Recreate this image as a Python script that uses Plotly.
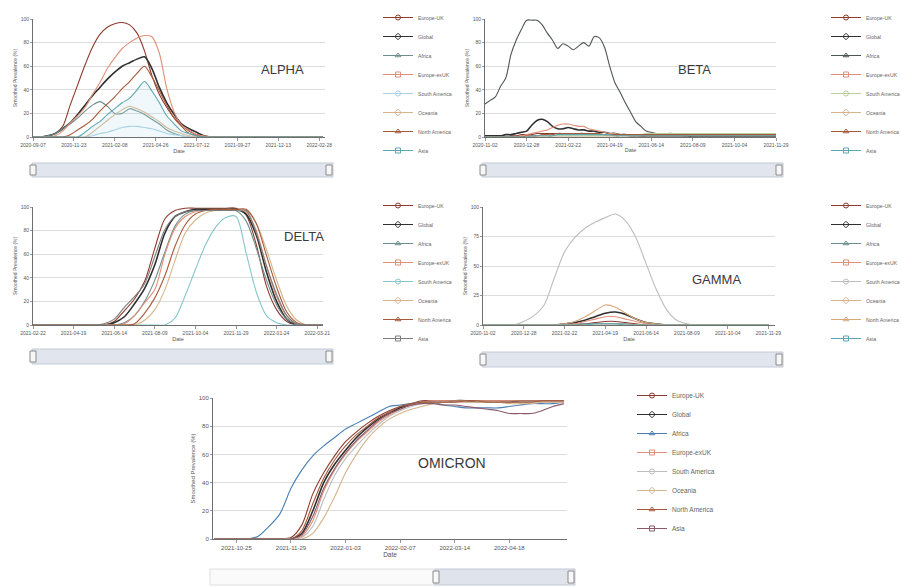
import pandas as pd
import plotly.graph_objects as go

W, H = 902, 587

REGIONS = ["Europe-UK", "Global", "Africa", "Europe-exUK", "South America",
           "Oceania", "North America", "Asia"]
SYMBOLS = ["circle-open", "diamond-open", "triangle-up-open", "square-open",
           "circle-open", "diamond-open", "triangle-up-open", "square-open"]
BASE_COLORS = {
    "Europe-UK": "#8e3b2f", "Global": "#2f2f2f", "Africa": "#6e8f8b",
    "Europe-exUK": "#e0907a", "South America": "#a9d3e3", "Oceania": "#d6b48c",
    "North America": "#a65a3a", "Asia": "#5ba7ae",
}

# ---------------- ALPHA (14-day samples from 2020-09-07) ----------------
ALPHA_START, ALPHA_STEP = "2020-09-07", "14D"
ALPHA_TICKS = ["2020-09-07", "2020-11-23", "2021-02-08", "2021-04-26",
               "2021-07-12", "2021-09-27", "2021-12-13", "2022-02-28"]
ALPHA_EUROPE_UK = [0, 0, 1, 3, 9, 27, 44, 61, 76, 87, 93, 96, 97, 95, 88, 73, 52, 36, 25, 16,
                   10, 5, 2, 1, 0, 0, 0, 0, 0, 0, 0, 0, 0, 0, 0, 0, 0, 0, 0, 0]
ALPHA_GLOBAL = [0, 0, 1, 3, 7, 12, 19, 27, 35, 42, 49, 55, 60, 63, 66, 68, 58, 42, 29, 19,
                11, 7, 4, 1, 0, 0, 0, 0, 0, 0, 0, 0, 0, 0, 0, 0, 0, 0, 0, 0]
ALPHA_AFRICA = [0, 0, 1, 3, 7, 11, 16, 22, 27, 30, 26, 20, 20, 24, 22, 19, 15, 11, 6, 3,
                1, 0, 0, 0, 0, 0, 0, 0, 0, 0, 0, 0, 0, 0, 0, 0, 0, 0, 0, 0]
ALPHA_EUROPE_EXUK = [0, 0, 0, 1, 5, 12, 18, 25, 36, 46, 58, 67, 75, 80, 84, 86, 85, 71, 41, 21,
                     10, 6, 2, 1, 0, 0, 0, 0, 0, 0, 0, 0, 0, 0, 0, 0, 0, 0, 0, 0]
ALPHA_SOUTH_AMERICA = [0, 0, 0, 0, 0, 0, 0, 0, 1, 3, 4, 6, 8, 9, 9, 8, 7, 5, 3, 2,
                       1, 0, 0, 0, 0, 0, 0, 0, 0, 0, 0, 0, 0, 0, 0, 0, 0, 0, 0, 0]
ALPHA_OCEANIA = [0, 0, 0, 0, 0, 0, 0, 0, 4, 9, 14, 19, 23, 26, 24, 21, 17, 13, 8, 5,
                 3, 1, 0, 0, 0, 0, 0, 0, 0, 0, 0, 0, 0, 0, 0, 0, 0, 0, 0, 0]
ALPHA_NORTH_AMERICA = [0, 0, 0, 0, 0, 2, 6, 10, 15, 22, 28, 34, 41, 47, 54, 60, 51, 39, 27, 16,
                       9, 3, 1, 0, 0, 0, 0, 0, 0, 0, 0, 0, 0, 0, 0, 0, 0, 0, 0, 0]
ALPHA_ASIA = [0, 0, 0, 0, 0, 0, 0, 4, 9, 13, 19, 24, 29, 33, 40, 47, 39, 29, 18, 11,
              5, 3, 1, 0, 0, 0, 0, 0, 0, 0, 0, 0, 0, 0, 0, 0, 0, 0, 0, 0]

# ---------------- BETA (weekly samples from 2020-11-02) ----------------
BETA_START, BETA_STEP = "2020-11-02", "7D"
BETA_TICKS = ["2020-11-02", "2020-12-28", "2021-02-22", "2021-04-19",
              "2021-06-14", "2021-08-09", "2021-10-04", "2021-11-29"]
BETA_EUROPE_UK = [0, 0, 0, 0, 0, 1, 1, 2, 2, 2, 3, 3, 3, 3, 3, 3, 3, 3, 3, 3,
                  2, 2, 2, 2, 2, 2, 2, 2, 2, 2, 1, 1, 1, 1, 1, 1, 1, 1, 1, 1,
                  1, 1, 1, 1, 1, 1, 1, 1, 1, 1, 1, 1, 1, 1, 1, 1, 1]
BETA_GLOBAL = [1, 1, 1, 1, 2, 2, 3, 4, 5, 10, 14, 15, 13, 9, 7, 7, 8, 7, 6, 6,
               5, 5, 4, 4, 3, 3, 2, 2, 1, 1, 1, 1, 1, 1, 1, 1, 1, 1, 1, 1,
               0, 0, 0, 0, 0, 0, 0, 0, 0, 0, 0, 0, 0, 0, 0, 0, 0]
BETA_AFRICA = [28, 31, 34, 43, 50, 70, 82, 91, 99, 99, 99, 95, 88, 82, 75, 79, 77, 74, 77, 80,
               77, 85, 84, 76, 60, 46, 38, 29, 21, 13, 9, 5, 4, 3, 3, 3, 3, 2, 1, 1,
               1, 1, 1, 1, 1, 1, 1, 1, 1, 1, 1, 1, 1, 1, 1, 1, 1]
BETA_EUROPE_EXUK = [0, 0, 0, 0, 0, 0, 0, 1, 2, 3, 4, 5, 6, 8, 10, 11, 11, 10, 9, 9,
                    7, 6, 5, 4, 3, 3, 2, 1, 1, 1, 1, 1, 1, 1, 1, 1, 1, 1, 1, 1,
                    1, 1, 1, 1, 1, 1, 1, 1, 1, 1, 1, 1, 1, 1, 1, 1, 1]
BETA_SOUTH_AMERICA = [0, 0, 0, 0, 0, 0, 0, 0, 0, 0, 0, 0, 0, 1, 1, 1, 1, 1, 1, 1,
                      1, 1, 1, 1, 1, 1, 1, 1, 2, 2, 2, 3, 3, 3, 3, 3, 3, 3, 3, 3,
                      3, 3, 3, 3, 3, 3, 3, 3, 3, 3, 3, 3, 3, 3, 3, 3, 3]
BETA_OCEANIA = [0, 0, 0, 0, 0, 0, 0, 0, 0, 0, 0, 0, 0, 0, 0, 0, 0, 0, 0, 0,
                0, 0, 0, 0, 0, 0, 1, 1, 1, 1, 2, 2, 2, 2, 2, 2, 2, 2, 2, 2,
                2, 2, 2, 2, 2, 2, 2, 2, 2, 2, 2, 2, 2, 2, 2, 2, 2]
BETA_NORTH_AMERICA = [0, 0, 0, 0, 0, 0, 0, 0, 1, 1, 1, 2, 2, 2, 3, 3, 3, 3, 3, 3,
                      3, 3, 3, 2, 2, 2, 2, 2, 2, 2, 2, 2, 2, 2, 2, 2, 2, 2, 2, 2,
                      2, 2, 2, 2, 2, 2, 2, 2, 2, 2, 2, 2, 2, 2, 2, 2, 2]
BETA_ASIA = [0, 0, 0, 0, 0, 0, 0, 0, 0, 1, 1, 1, 1, 1, 2, 2, 2, 2, 2, 2,
             2, 2, 2, 2, 2, 1, 1, 1, 1, 1, 1, 1, 1, 1, 1, 1, 1, 1, 1, 1,
             1, 1, 1, 1, 1, 1, 1, 1, 1, 1, 1, 1, 1, 1, 1, 1, 1]

# ---------------- DELTA (14-day samples from 2021-02-22) ----------------
DELTA_START, DELTA_STEP = "2021-02-22", "14D"
DELTA_TICKS = ["2021-02-22", "2021-04-19", "2021-06-14", "2021-08-09",
               "2021-10-04", "2021-11-29", "2022-01-24", "2022-03-21"]
DELTA_EUROPE_UK = [0, 0, 0, 0, 0, 0, 0, 0, 3, 12, 22, 37, 65, 90, 97, 99, 99, 99, 99, 99,
                   99, 93, 68, 33, 13, 3, 0, 0, 0, 0]
DELTA_GLOBAL = [0, 0, 0, 0, 0, 0, 0, 0, 2, 7, 18, 31, 51, 78, 92, 96, 98, 98, 98, 98,
                98, 94, 76, 45, 20, 5, 0, 0, 0, 0]
DELTA_AFRICA = [0, 0, 0, 0, 0, 0, 0, 0, 0, 2, 8, 20, 38, 62, 84, 94, 97, 97, 97, 97,
                97, 88, 65, 38, 17, 5, 1, 0, 0, 0]
DELTA_EUROPE_EXUK = [0, 0, 0, 0, 0, 0, 0, 0, 0, 1, 8, 19, 30, 60, 82, 92, 96, 97, 97, 97,
                     97, 96, 80, 50, 24, 8, 1, 0, 0, 0]
DELTA_SOUTH_AMERICA = [0, 0, 0, 0, 0, 0, 0, 0, 0, 0, 0, 0, 0, 0, 6, 25, 47, 68, 83, 91,
                       92, 61, 28, 8, 2, 0, 0, 0, 0, 0]
DELTA_OCEANIA = [0, 0, 0, 0, 0, 0, 0, 0, 0, 0, 0, 4, 13, 30, 55, 78, 89, 95, 97, 97,
                 97, 97, 86, 64, 38, 16, 4, 0, 0, 0]
DELTA_NORTH_AMERICA = [0, 0, 0, 0, 0, 0, 0, 0, 0, 0, 1, 10, 23, 42, 67, 85, 94, 97, 98, 98,
                       98, 98, 86, 59, 32, 11, 2, 0, 0, 0]
DELTA_ASIA = [0, 0, 0, 0, 0, 0, 0, 1, 5, 15, 24, 35, 58, 81, 92, 96, 97, 97, 97, 97,
              97, 97, 78, 50, 26, 8, 1, 0, 0, 0]

# ---------------- GAMMA (14-day samples from 2020-11-02) ----------------
GAMMA_START, GAMMA_STEP = "2020-11-02", "14D"
GAMMA_TICKS = BETA_TICKS
GAMMA_EUROPE_UK = [0, 0, 0, 0, 0, 0, 0, 0, 0, 0, 1, 2, 3, 3, 2, 1, 0, 0, 0, 0,
                   0, 0, 0, 0, 0, 0, 0, 0, 0]
GAMMA_GLOBAL = [0, 0, 0, 0, 0, 0, 0, 0, 1, 2, 4, 7, 10, 11, 9, 5, 2, 1, 0, 0,
                0, 0, 0, 0, 0, 0, 0, 0, 0]
GAMMA_AFRICA = [0, 0, 0, 0, 0, 0, 0, 0, 0, 1, 1, 1, 1, 1, 1, 0, 0, 0, 0, 0,
                0, 0, 0, 0, 0, 0, 0, 0, 0]
GAMMA_EUROPE_EXUK = [0, 0, 0, 0, 0, 0, 0, 0, 0, 1, 3, 5, 7, 7, 5, 3, 1, 0, 0, 0,
                     0, 0, 0, 0, 0, 0, 0, 0, 0]
GAMMA_SOUTH_AMERICA = [0, 0, 0, 0, 3, 8, 17, 40, 62, 74, 82, 87, 91, 94, 88, 74, 52, 30, 13, 4,
                       1, 0, 0, 0, 0, 0, 0, 0, 0]
GAMMA_OCEANIA = [0, 0, 0, 0, 0, 0, 0, 0, 0, 0, 0, 0, 0, 0, 0, 0, 0, 0, 0, 0,
                 0, 0, 0, 0, 0, 0, 0, 0, 0]
GAMMA_NORTH_AMERICA = [0, 0, 0, 0, 0, 0, 0, 0, 1, 3, 7, 12, 17, 15, 10, 5, 2, 1, 0, 0,
                       0, 0, 0, 0, 0, 0, 0, 0, 0]
GAMMA_ASIA = [0, 0, 0, 0, 0, 0, 0, 0, 0, 0, 0, 1, 1, 1, 0, 0, 0, 0, 0, 0,
              0, 0, 0, 0, 0, 0, 0, 0, 0]

# ---------------- OMICRON (weekly samples from 2021-10-11) ----------------
OMICRON_START, OMICRON_STEP = "2021-10-11", "7D"
OMICRON_TICKS = ["2021-10-25", "2021-11-29", "2022-01-03", "2022-02-07",
                 "2022-03-14", "2022-04-18"]
OMICRON_EUROPE_UK = [0, 0, 0, 0, 0, 0, 0, 1, 10, 32, 47, 59, 69, 76, 82, 87, 91, 94, 96, 98,
                     98, 98, 98, 98, 98, 98, 98, 98, 98, 98, 98, 98, 98]
OMICRON_GLOBAL = [0, 0, 0, 0, 0, 0, 0, 0, 4, 20, 40, 53, 63, 72, 79, 85, 89, 93, 95, 97,
                  97, 97, 98, 98, 97, 97, 97, 97, 98, 98, 98, 98, 98]
OMICRON_AFRICA = [0, 0, 0, 0, 2, 9, 18, 36, 49, 59, 66, 72, 78, 82, 86, 90, 94, 95, 96, 97,
                  97, 95, 94, 93, 93, 93, 93, 94, 95, 96, 96, 96, 97]
OMICRON_EUROPE_EXUK = [0, 0, 0, 0, 0, 0, 0, 0, 2, 13, 34, 49, 60, 69, 76, 83, 88, 92, 95, 97,
                       98, 98, 98, 98, 98, 98, 98, 98, 98, 98, 98, 98, 98]
OMICRON_SOUTH_AMERICA = [0, 0, 0, 0, 0, 0, 0, 0, 1, 9, 28, 45, 57, 66, 74, 81, 87, 91, 94, 96,
                         97, 97, 97, 97, 97, 97, 97, 97, 97, 97, 97, 97, 97]
OMICRON_OCEANIA = [0, 0, 0, 0, 0, 0, 0, 0, 0, 4, 15, 30, 47, 60, 71, 79, 85, 89, 92, 94,
                   96, 97, 97, 97, 97, 97, 97, 96, 96, 96, 97, 97, 97]
OMICRON_NORTH_AMERICA = [0, 0, 0, 0, 0, 0, 0, 0, 6, 25, 43, 56, 66, 74, 80, 86, 90, 94, 96, 97,
                         97, 97, 97, 98, 98, 97, 97, 97, 97, 97, 98, 98, 98]
OMICRON_ASIA = [0, 0, 0, 0, 0, 0, 0, 0, 3, 16, 36, 50, 61, 70, 77, 84, 89, 92, 95, 96,
                96, 95, 95, 94, 93, 92, 91, 89, 89, 89, 91, 94, 96]


def px_x(p):
    return p / W


def px_y(p):
    return 1 - p / H


PANELS = [
    dict(name="ALPHA", start=ALPHA_START, step=ALPHA_STEP, ticks=ALPHA_TICKS,
         series=[ALPHA_EUROPE_UK, ALPHA_GLOBAL, ALPHA_AFRICA, ALPHA_EUROPE_EXUK,
                 ALPHA_SOUTH_AMERICA, ALPHA_OCEANIA, ALPHA_NORTH_AMERICA, ALPHA_ASIA],
         xr=("2020-09-07", "2022-03-11"), ydt=20, box=(33, 325, 19, 137),
         legend=(378, 3), label=(282, 70), slider=(32, 333, 163, 177, None),
         colors={}, fills={"Asia": "rgba(170,215,232,0.18)"}),
    dict(name="BETA", start=BETA_START, step=BETA_STEP, ticks=BETA_TICKS,
         series=[BETA_EUROPE_UK, BETA_GLOBAL, BETA_AFRICA, BETA_EUROPE_EXUK,
                 BETA_SOUTH_AMERICA, BETA_OCEANIA, BETA_NORTH_AMERICA, BETA_ASIA],
         xr=("2020-11-02", "2021-11-29"), ydt=20, box=(485, 776, 19, 137),
         legend=(826, 3), label=(694, 70), slider=(482, 783, 163, 177, None),
         colors={"Africa": "#4f5553", "South America": "#b9cf9a"}, fills={}),
    dict(name="DELTA", start=DELTA_START, step=DELTA_STEP, ticks=DELTA_TICKS,
         series=[DELTA_EUROPE_UK, DELTA_GLOBAL, DELTA_AFRICA, DELTA_EUROPE_EXUK,
                 DELTA_SOUTH_AMERICA, DELTA_OCEANIA, DELTA_NORTH_AMERICA, DELTA_ASIA],
         xr=("2021-02-22", "2022-03-29"), ydt=20, box=(33, 323, 207, 325),
         legend=(378, 191), label=(304, 236), slider=(32, 333, 349, 364, None),
         colors={"South America": "#86c6cc", "Asia": "#7d7d7d"}, fills={}),
    dict(name="GAMMA", start=GAMMA_START, step=GAMMA_STEP, ticks=GAMMA_TICKS,
         series=[GAMMA_EUROPE_UK, GAMMA_GLOBAL, GAMMA_AFRICA, GAMMA_EUROPE_EXUK,
                 GAMMA_SOUTH_AMERICA, GAMMA_OCEANIA, GAMMA_NORTH_AMERICA, GAMMA_ASIA],
         xr=("2020-11-02", "2021-12-08"), ydt=25, box=(483, 775, 207, 325),
         legend=(826, 191), label=(716, 279), slider=(482, 783, 352, 367, None),
         colors={"South America": "#bdbdbd", "North America": "#d9a77a"}, fills={}),
    dict(name="OMICRON", start=OMICRON_START, step=OMICRON_STEP, ticks=OMICRON_TICKS,
         series=[OMICRON_EUROPE_UK, OMICRON_GLOBAL, OMICRON_AFRICA, OMICRON_EUROPE_EXUK,
                 OMICRON_SOUTH_AMERICA, OMICRON_OCEANIA, OMICRON_NORTH_AMERICA, OMICRON_ASIA],
         xr=("2021-10-10", "2022-05-25"), ydt=20, box=(213, 567, 398, 539),
         legend=(632, 381), label=(452, 463), slider=(210, 575, 569, 585, 435),
         colors={"Africa": "#4a7fb5", "South America": "#bdbdbd", "Asia": "#8a5a6a"}, fills={}),
]

FONT = "Liberation Sans, Arial, sans-serif"
fig = go.Figure()
layout = dict(width=W, height=H, autosize=False,
              margin=dict(l=0, r=0, t=0, b=0, pad=0, autoexpand=False),
              paper_bgcolor="white", plot_bgcolor="white", font=dict(family=FONT, color="#555"),
              showlegend=True)
shapes, annotations = [], []

for i, p in enumerate(PANELS):
    n = i + 1
    xa = "x" if n == 1 else f"x{n}"
    ya = "y" if n == 1 else f"y{n}"
    lg = "legend" if n == 1 else f"legend{n}"
    big = p["name"] == "OMICRON"
    tf = 6 if big else 5
    maxlen = max(len(s) for s in p["series"])
    dates = pd.date_range(p["start"], periods=maxlen, freq=p["step"])
    colors = dict(BASE_COLORS, **p["colors"])
    for r, vals, sym in zip(REGIONS, p["series"], SYMBOLS):
        c = colors[r]
        fill = p["fills"].get(r)
        fig.add_trace(go.Scatter(
            x=dates[:len(vals)], y=vals, mode="lines", name=r, xaxis=xa, yaxis=ya,
            line=dict(color=c, width=1.6 if r == "Global" else 1.1, shape="spline", smoothing=0.8),
            fill="tozeroy" if fill else "none", fillcolor=fill,
            legendgroup=f"{p['name']}-{r}", showlegend=False, hoverinfo="x+y+name"))
        fig.add_trace(go.Scatter(
            x=[None], y=[None], mode="lines+markers", name=r, xaxis=xa, yaxis=ya,
            legend=lg, legendgroup=f"{p['name']}-{r}",
            line=dict(color=c, width=1),
            marker=dict(symbol=sym, size=5, color=c, line=dict(width=1, color=c))))
    x0, x1, y0, y1 = p["box"]
    layout["xaxis" if n == 1 else f"xaxis{n}"] = dict(
        domain=[px_x(x0), px_x(x1)], anchor=ya, type="date", range=list(p["xr"]),
        tickvals=p["ticks"], ticktext=p["ticks"], showgrid=False, showline=True,
        linecolor="#6f6f6f", linewidth=1, ticks="outside", ticklen=3, tickcolor="#999",
        tickfont=dict(size=tf, color="#555"), zeroline=False, automargin=False,
        title=dict(text="Date", font=dict(size=tf + 0.5, color="#555"), standoff=1))
    layout["yaxis" if n == 1 else f"yaxis{n}"] = dict(
        domain=[px_y(y1), px_y(y0)], anchor=xa, range=[0, 100], dtick=p["ydt"],
        showgrid=True, gridcolor="#dcdcdc", gridwidth=1, showline=True,
        linecolor="#6f6f6f", linewidth=1, ticks="outside", ticklen=2, tickcolor="#999",
        tickfont=dict(size=tf, color="#555"), zeroline=False, automargin=False,
        title=dict(text="Smoothed Prevalence (%)", font=dict(size=tf, color="#555"), standoff=2))
    lx, ly = p["legend"]
    layout[lg] = dict(x=px_x(lx), y=px_y(ly), xanchor="left", yanchor="top",
                      font=dict(size=6.5 if big else 5.2, color="#666"),
                      bgcolor="rgba(0,0,0,0)", itemwidth=30, tracegroupgap=0)
    tx, ty = p["label"]
    annotations.append(dict(x=px_x(tx), y=px_y(ty), xref="paper", yref="paper",
                            xanchor="center", yanchor="middle",
                            text=p["name"], showarrow=False,
                            font=dict(size=14 if big else 13, color="#3a3a3a", family=FONT)))
    # navigator / range-slider strip
    sx0, sx1, sy0, sy1, sel = p["slider"]
    if sel is None:
        shapes.append(dict(type="rect", xref="paper", yref="paper",
                           x0=px_x(sx0), x1=px_x(sx1), y0=px_y(sy1), y1=px_y(sy0),
                           fillcolor="#e1e6ee", line=dict(color="#c3cad5", width=1), layer="below"))
        hx = [sx0, sx1 - 5]
    else:
        shapes.append(dict(type="rect", xref="paper", yref="paper",
                           x0=px_x(sx0), x1=px_x(sel), y0=px_y(sy1), y1=px_y(sy0),
                           fillcolor="#fafafa", line=dict(color="#dedede", width=1), layer="below"))
        shapes.append(dict(type="rect", xref="paper", yref="paper",
                           x0=px_x(sel), x1=px_x(sx1), y0=px_y(sy1), y1=px_y(sy0),
                           fillcolor="#dfe4ec", line=dict(color="#c3cad5", width=1), layer="below"))
        hx = [sel, sx1 - 5]
    for h in hx:
        shapes.append(dict(type="rect", xref="paper", yref="paper",
                           x0=px_x(h - 2), x1=px_x(h + 4), y0=px_y(sy1 - 2), y1=px_y(sy0 + 2),
                           fillcolor="#f7f7f7", line=dict(color="#8a8a8a", width=1)))

layout["shapes"] = shapes
layout["annotations"] = annotations
fig.update_layout(**layout)
fig.write_html("out.html", config={"displayModeBar": False},
               post_script="document.body.style.margin='0';document.body.style.overflow='hidden';")
